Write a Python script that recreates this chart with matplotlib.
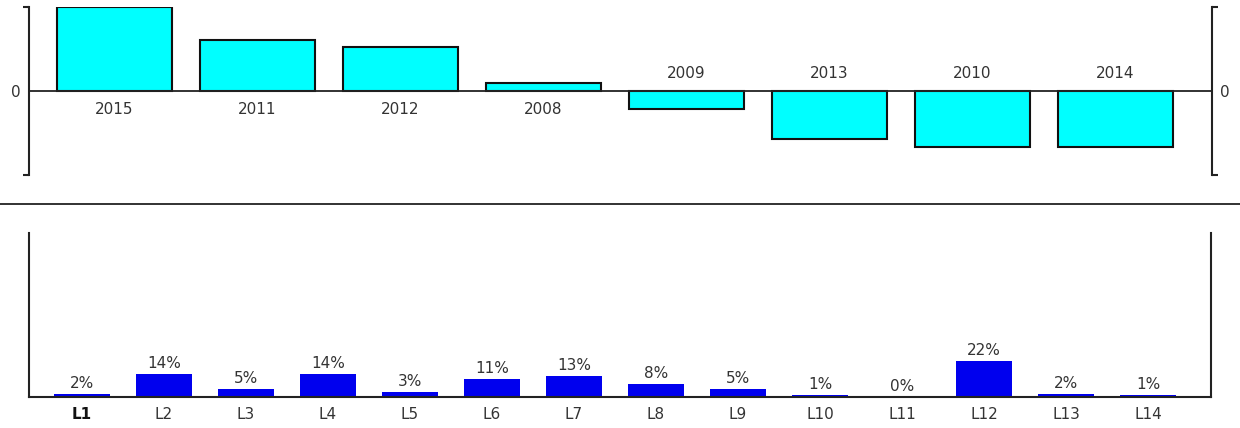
import matplotlib
matplotlib.use("Agg")
import matplotlib.pyplot as plt
from matplotlib.lines import Line2D

# ---- data ----
years = ["2015", "2011", "2012", "2008", "2009", "2013", "2010", "2014"]
year_values = [84, 51, 44, 8, -18, -48, -56, -56]

levels = ["L1", "L2", "L3", "L4", "L5", "L6", "L7", "L8", "L9", "L10", "L11", "L12", "L13", "L14"]
level_pct = [2, 14, 5, 14, 3, 11, 13, 8, 5, 1, 0, 22, 2, 1]

TXT = "#333333"
AX = "#222222"
FS = 11
plt.rcParams['font.family'] = ['DejaVu Sans']

W, H = 1240, 428
fig = plt.figure(figsize=(W / 100, H / 100), dpi=100)

def box(x0, y0, x1, y1):
    return [x0 / W, 1 - y1 / H, (x1 - x0) / W, (y1 - y0) / H]

# ---- top chart ----
ax1 = fig.add_axes(box(29, 7, 1212, 175))
xs = list(range(len(years)))
ax1.bar(xs, year_values, width=0.804, color="#00FFFF", edgecolor="#111111", linewidth=1.5, zorder=2)
ax1.set_xlim(-0.598, 7.675)
ax1.set_ylim(-84, 84)
ax1.axhline(0, color=AX, linewidth=1.3, zorder=3)
for x, v, lab in zip(xs, year_values, years):
    if v >= 0:
        ax1.annotate(lab, (x, 0), xytext=(0, -11), textcoords="offset pixels",
                     ha="center", va="top", fontsize=FS, color=TXT)
    else:
        ax1.annotate(lab, (x, 0), xytext=(0, 10), textcoords="offset pixels",
                     ha="center", va="bottom", fontsize=FS, color=TXT)
for s in ("top", "bottom"):
    ax1.spines[s].set_visible(False)
for s in ("left", "right"):
    ax1.spines[s].set_color(AX)
    ax1.spines[s].set_linewidth(1.5)
ax1.set_xticks([])
ax1.set_yticks([0])
ax1.set_yticklabels(["0"])
ax1.set_yticks([-84, 84], minor=True)
ax1.tick_params(axis="y", which="major", length=0, pad=6, labelsize=FS, labelcolor=TXT,
                left=True, right=True, labelleft=True, labelright=True)
ax1.tick_params(axis="y", which="minor", length=4, width=1.5, color=AX, direction="out",
                left=True, right=True)

# separator line
fig.add_artist(Line2D([0, 1], [1 - 204 / H, 1 - 204 / H], transform=fig.transFigure,
                      color=AX, linewidth=1.3))

# ---- bottom chart ----
ax2 = fig.add_axes(box(29, 233, 1211, 397))
xs2 = list(range(len(levels)))
ax2.bar(xs2, level_pct, width=0.683, color="#0000EE", linewidth=0, zorder=2)
ax2.set_xlim(-0.646, 13.768)
ax2.set_ylim(0, 100)
for x, v in zip(xs2, level_pct):
    ax2.annotate(f"{v}%", (x, v), xytext=(0, 3), textcoords="offset pixels",
                 ha="center", va="bottom", fontsize=FS, color=TXT)
ax2.spines["top"].set_visible(False)
for s in ("left", "right", "bottom"):
    ax2.spines[s].set_color(AX)
    ax2.spines[s].set_linewidth(1.5)
ax2.set_yticks([])
ax2.set_xticks(xs2)
ax2.set_xticklabels(levels)
ax2.tick_params(axis="x", length=0, pad=7, labelsize=FS, labelcolor=TXT)
lbl = ax2.get_xticklabels()[0]
lbl.set_fontweight("bold")
lbl.set_color("#111111")

fig.savefig("out.png", dpi=100, facecolor="white")
